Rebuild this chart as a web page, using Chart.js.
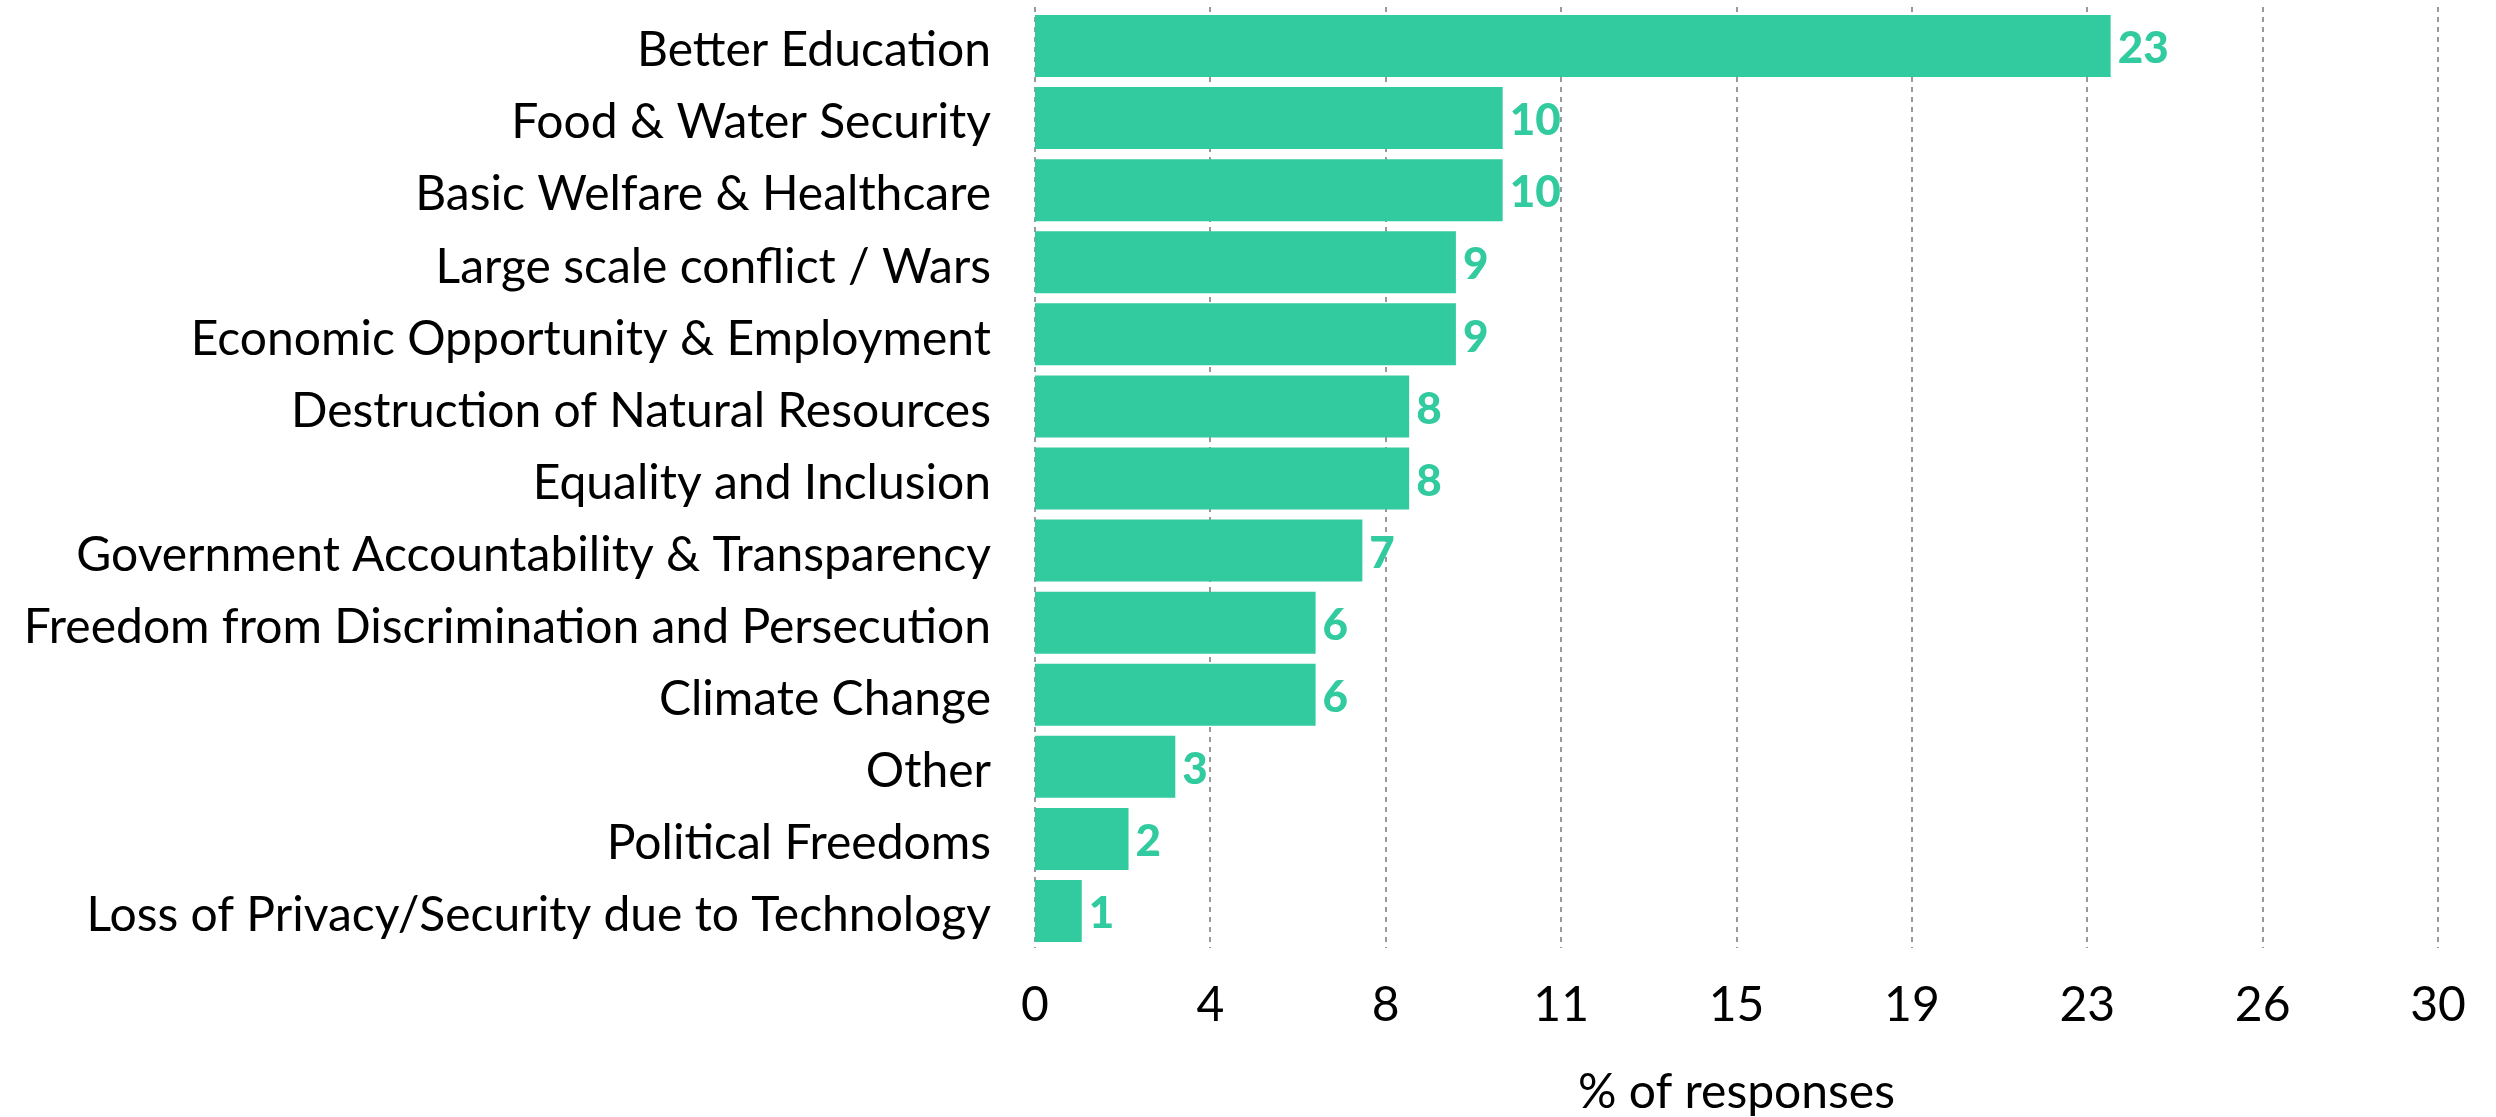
<!DOCTYPE html>
<html>
<head>
<meta charset="utf-8">
<script src="https://cdn.jsdelivr.net/npm/chart.js@4/dist/chart.umd.min.js"></script>
<style>
    html, body { margin: 0; padding: 0; background: #fff; }
    #wrap { width: 2496px; height: 1117px; }
</style>
</head>
<body>
<div id="wrap"><canvas id="responsesChart"></canvas></div>
<script>
// Issue categories, top to bottom
const categories = [
    'Better Education',
    'Food & Water Security',
    'Basic Welfare & Healthcare',
    'Large scale conflict / Wars',
    'Economic Opportunity & Employment',
    'Destruction of Natural Resources',
    'Equality and Inclusion',
    'Government Accountability & Transparency',
    'Freedom from Discrimination and Persecution',
    'Climate Change',
    'Other',
    'Political Freedoms',
    'Loss of Privacy/Security due to Technology'
];

// % of responses for each category
const responseShare = [23, 10, 10, 9, 9, 8, 8, 7, 6, 6, 3, 2, 1];

// x axis: 0..30 in 8 equal steps, labels rounded
const xMax = 30;
const xStep = 3.75;

const barColor = '#31cb9f';
const fontFamily = 'Lato, "Noto Sans", sans-serif';

// value labels drawn just past the end of each bar
const valueLabels = {
    id: 'valueLabels',
    afterDatasetsDraw(chart) {
        const ctx = chart.ctx;
        const meta = chart.getDatasetMeta(0);
        ctx.save();
        ctx.fillStyle = barColor;
        ctx.font = '900 44px ' + fontFamily;
        ctx.textAlign = 'left';
        ctx.textBaseline = 'middle';
        meta.data.forEach((bar, i) => {
            ctx.fillText(String(responseShare[i]), bar.x + 7, bar.y + 3);
        });
        ctx.restore();
    }
};

// dashed vertical grid lines, running a little above the plot area
const dashGrid = {
    id: 'dashGrid',
    beforeDatasetsDraw(chart) {
        const ctx = chart.ctx;
        const x = chart.scales.x;
        const area = chart.chartArea;
        ctx.save();
        ctx.strokeStyle = '#999999';
        ctx.lineWidth = 2;
        ctx.setLineDash([5, 5]);
        x.ticks.forEach((t, i) => {
            const px = Math.round(x.getPixelForTick(i));
            ctx.beginPath();
            ctx.moveTo(px, area.top - 3);
            ctx.lineTo(px, area.bottom + 1);
            ctx.stroke();
        });
        ctx.restore();
    }
};

new Chart(document.getElementById('responsesChart'), {
    type: 'bar',
    data: {
        labels: categories,
        datasets: [{
            data: responseShare,
            backgroundColor: barColor,
            borderWidth: 0,
            barPercentage: 0.86,
            categoryPercentage: 1.0
        }]
    },
    options: {
        indexAxis: 'y',
        responsive: true,
        maintainAspectRatio: false,
        animation: false,
        layout: {
            padding: { top: 10, right: 58, bottom: 0, left: 0 }
        },
        plugins: {
            legend: { display: false },
            tooltip: { enabled: false }
        },
        scales: {
            x: {
                min: 0,
                max: xMax,
                border: { display: false },
                grid: { display: false, drawTicks: false },
                ticks: {
                    stepSize: xStep,
                    padding: 30,
                    color: '#000',
                    font: { family: fontFamily, size: 48 },
                    callback: v => Math.round(v)
                },
                title: {
                    display: true,
                    text: '% of responses',
                    color: '#000',
                    font: { family: fontFamily, size: 48, lineHeight: 1.0 },
                    padding: { top: 20, bottom: 0 }
                },
                afterFit(scale) {
                    scale.height = 170;
                }
            },
            y: {
                border: { display: false },
                grid: { display: false, drawTicks: false },
                ticks: {
                    padding: 44,
                    color: '#000',
                    // empty first line with a tight line height nudges each label down a few px
                    font: { family: fontFamily, size: 48, lineHeight: 0.2 },
                    callback: function (v) {
                        return ['', this.getLabelForValue(v)];
                    }
                },
                afterFit(scale) {
                    scale.width = 1035;
                    scale.paddingTop = 0;
                    scale.paddingBottom = 0;
                }
            }
        }
    },
    plugins: [dashGrid, valueLabels]
});
</script>
</body>
</html>
